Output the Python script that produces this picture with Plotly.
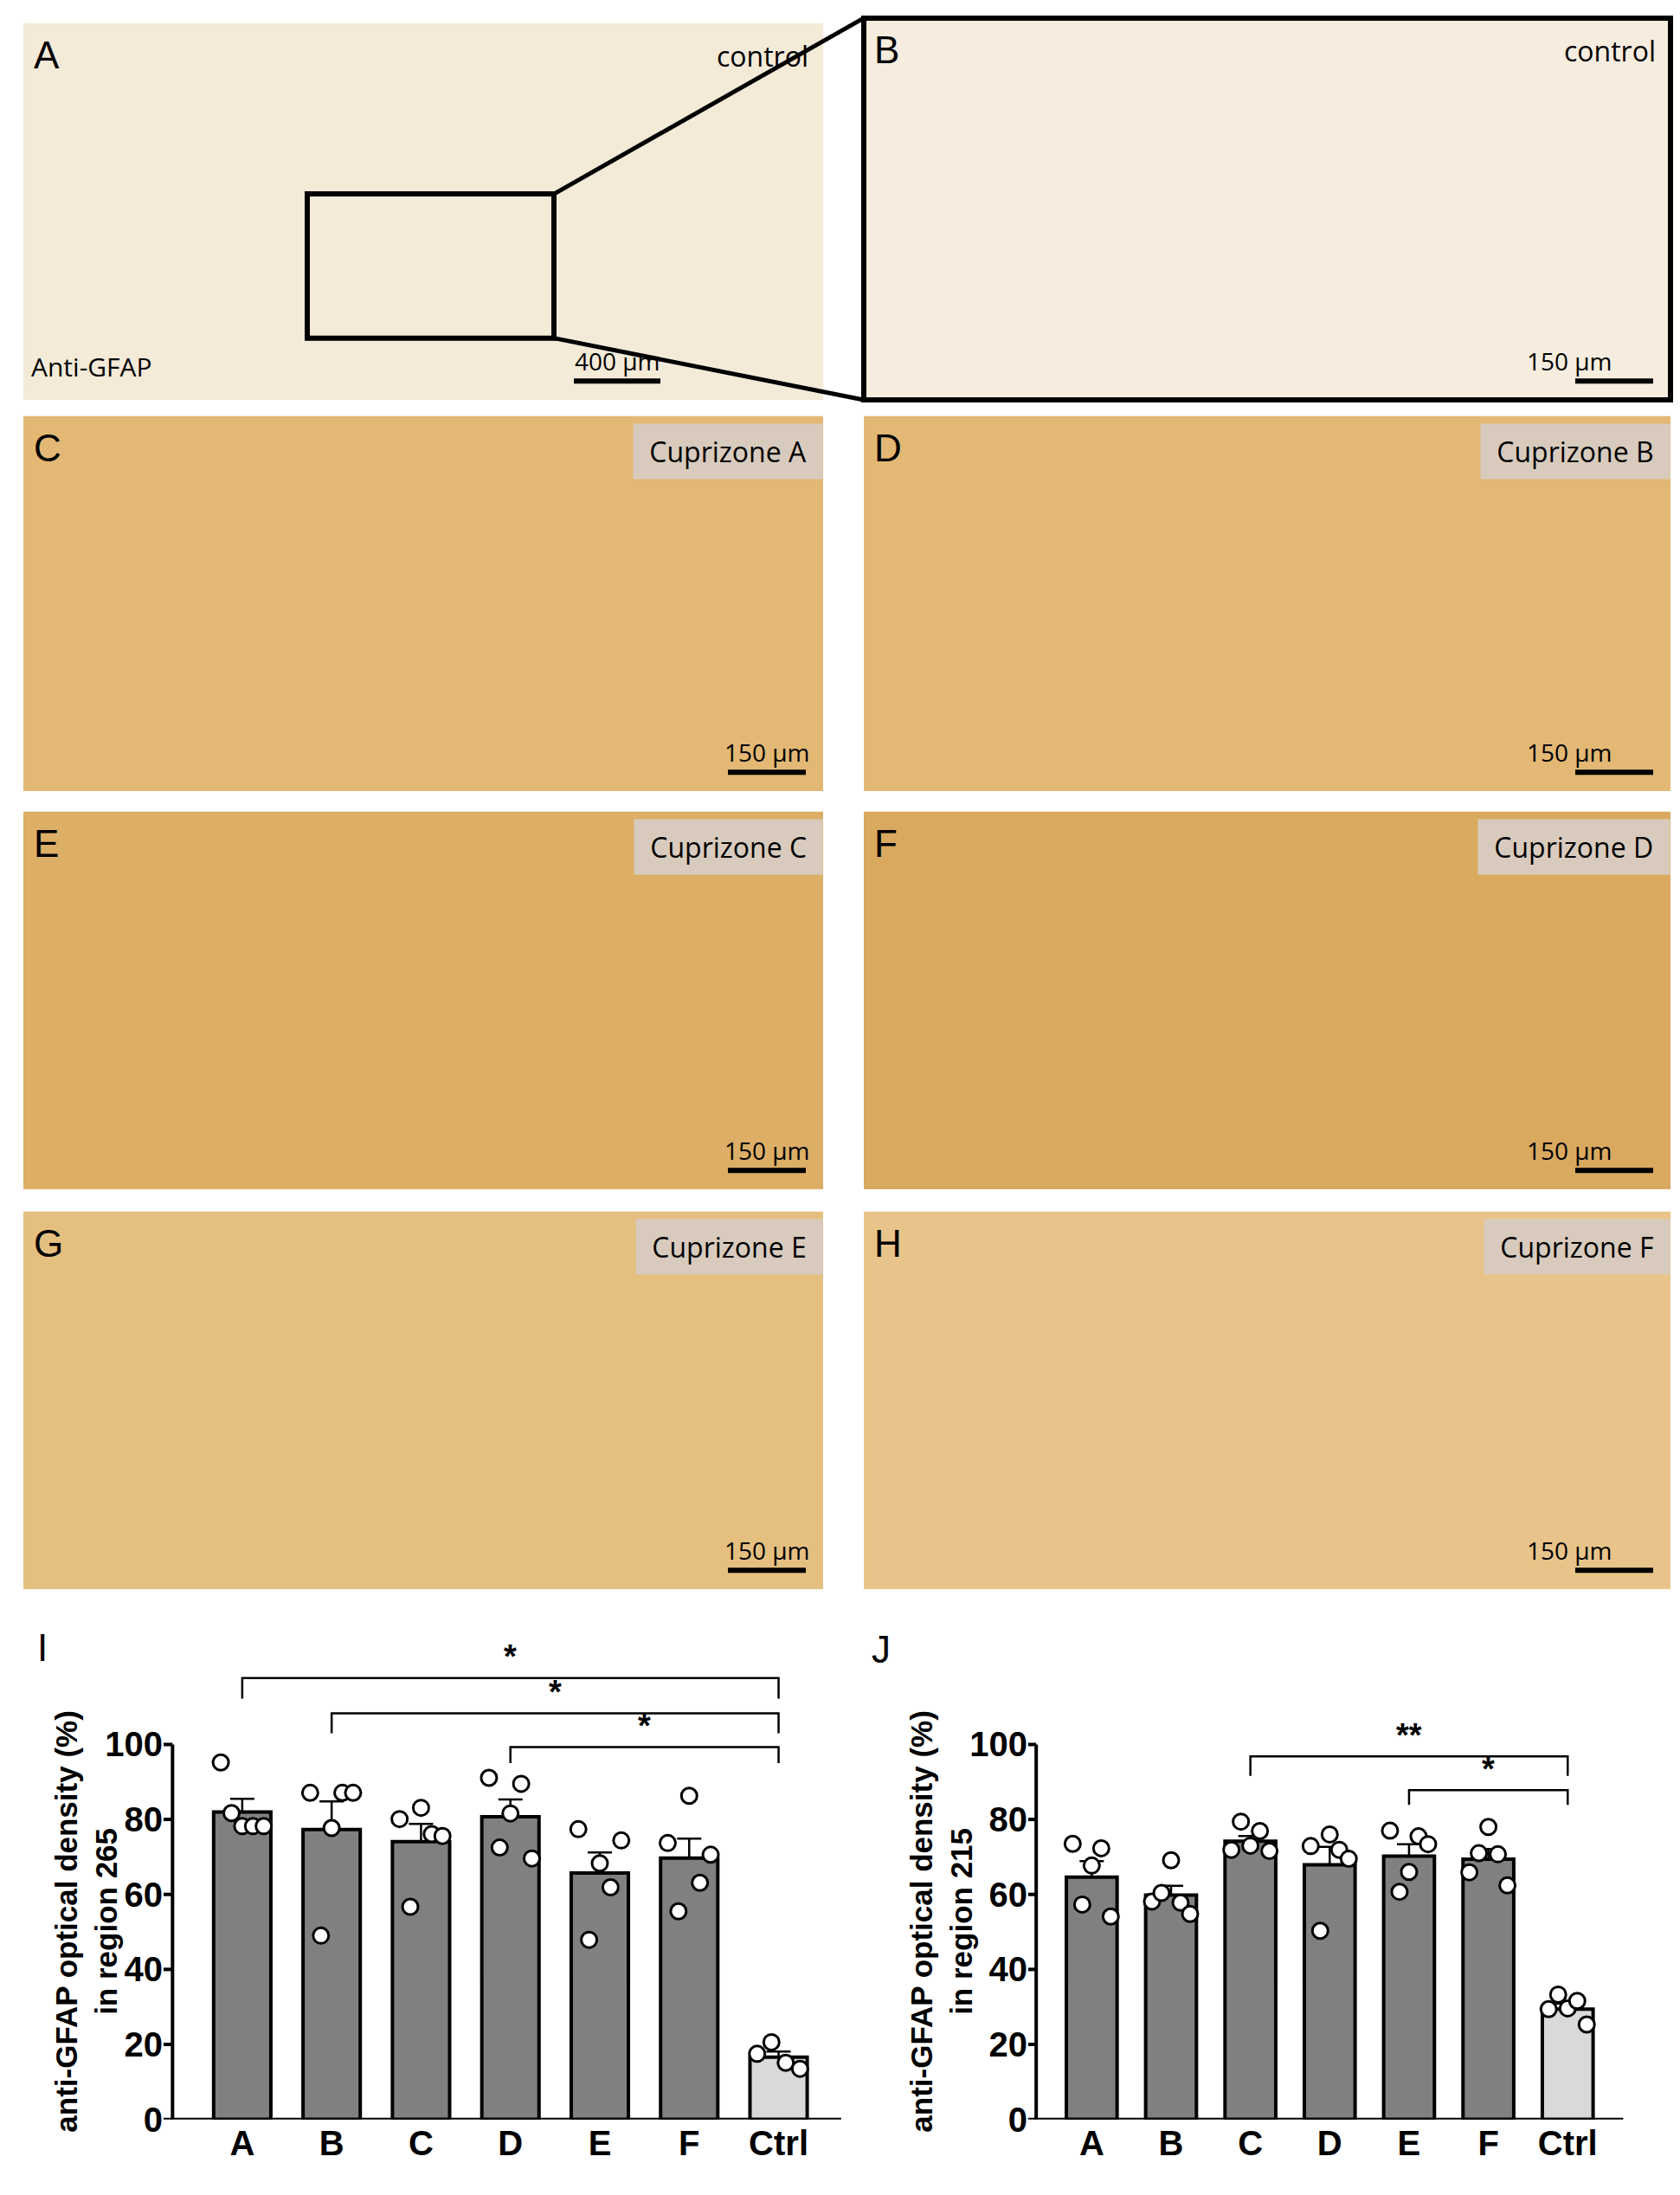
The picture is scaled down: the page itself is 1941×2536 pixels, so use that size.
import plotly.graph_objects as go
import numpy as np

W, H = 1941, 2536
groups = ["A", "B", "C", "D", "E", "F", "Ctrl"]

# Panel I (region 265)
i_means = [82.0, 77.3, 74.1, 80.7, 65.7, 69.7, 16.6]
i_sem = [3.5, 7.5, 4.7, 4.6, 5.5, 5.2, 1.5]
i_points = [
    [95.2, 81.7, 78.2, 78.2, 78.2],
    [87.1, 49.0, 77.7, 87.1, 87.1],
    [80.1, 56.7, 83.1, 76.1, 75.6],
    [91.1, 72.5, 81.6, 89.5, 69.6],
    [77.4, 47.9, 68.3, 61.9, 74.4],
    [73.7, 55.5, 86.3, 63.1, 70.6],
    [17.5, 20.6, 15.1, 13.5],
]
# Panel J (region 215)
j_means = [64.6, 59.8, 74.2, 67.9, 70.2, 69.4, 29.4]
j_sem = [4.3, 2.5, 1.4, 4.8, 3.2, 2.7, 1.5]
j_points = [
    [73.5, 57.3, 67.7, 72.3, 54.1],
    [58.1, 60.4, 69.1, 57.8, 54.8],
    [71.9, 79.4, 73.0, 76.9, 71.6],
    [72.9, 50.3, 76.0, 71.9, 69.5],
    [77.0, 60.7, 66.0, 75.5, 73.4],
    [65.9, 71.0, 78.0, 70.7, 62.4],
    [29.4, 33.3, 29.6, 31.6, 25.3],
]
i_sig = [("A", "*"), ("B", "*"), ("D", "*")]
j_sig = [("C", "**"), ("E", "*")]
i_title = "anti-GFAP optical density (%)<br>in region 265"
j_title = "anti-GFAP optical density (%)<br>in region 215"

FONT = "Liberation Sans"
fig = go.Figure()

def px(x): return x / W
def py(y): return 1 - y / H

shapes, annots = [], []

# ---------- image panels (placeholders) ----------
panels = [
    ("A", 19, 19, 943, 458, "control", "#f4ead8", "400 µm"),
    ("B", 990, 13, 1922, 458, "control", "#f6eddf", "150 µm"),
    ("C", 19, 477, 943, 914, "Cuprizone A", "#e2b874", "150 µm"),
    ("D", 990, 477, 1922, 914, "Cuprizone B", "#e2b874", "150 µm"),
    ("E", 19, 938, 943, 1378, "Cuprizone C", "#dcae66", "150 µm"),
    ("F", 990, 938, 1922, 1378, "Cuprizone D", "#d9a95f", "150 µm"),
    ("G", 19, 1404, 943, 1844, "Cuprizone E", "#e5bf80", "150 µm"),
    ("H", 990, 1404, 1922, 1844, "Cuprizone F", "#e8c48a", "150 µm"),
]
for lab, x0, y0, x1, y1, name, col, sb in panels:
    lw = 6 if lab == "B" else 0
    shapes.append(dict(type="rect", xref="paper", yref="paper", x0=px(x0), x1=px(x1),
                       y0=py(y1), y1=py(y0), fillcolor=col,
                       line=dict(color="black", width=lw), layer="below"))
    annots.append(dict(x=px(x0 + 10), y=py(y0 + 10), xref="paper", yref="paper",
                       text=lab, showarrow=False, xanchor="left", yanchor="top",
                       font=dict(family=FONT, size=44, color="black")))
    if name == "control":
        annots.append(dict(x=px(x1 - 15), y=py(y0 + 14), xref="paper", yref="paper",
                           text=name, showarrow=False, xanchor="right", yanchor="top",
                           font=dict(family="Open Sans", size=32, color="black")))
    else:
        annots.append(dict(x=px(x1), y=py(y0 + 8), xref="paper", yref="paper",
                           text=" " + name + " ", showarrow=False, xanchor="right", yanchor="top",
                           bgcolor="#d8cbbd", borderpad=10,
                           font=dict(family="Open Sans", size=32, color="black")))
    bx1 = x1 - 20
    bx0 = bx1 - 90
    if lab == "A":
        bx1, bx0 = 755, 655
    shapes.append(dict(type="line", xref="paper", yref="paper", x0=px(bx0), x1=px(bx1),
                       y0=py(y1 - 22), y1=py(y1 - 22), line=dict(color="black", width=6)))
    annots.append(dict(x=px((bx0 + bx1) / 2), y=py(y1 - 24), xref="paper", yref="paper",
                       text=sb, showarrow=False, yanchor="bottom",
                       font=dict(family="Open Sans", size=28, color="black")))
annots.append(dict(x=px(26), y=py(442), xref="paper", yref="paper", text="Anti-GFAP",
                   showarrow=False, xanchor="left", yanchor="bottom",
                   font=dict(family="Open Sans", size=30, color="black")))
shapes.append(dict(type="rect", xref="paper", yref="paper", x0=px(347), x1=px(632),
                   y0=py(386), y1=py(218), line=dict(color="black", width=6)))
shapes.append(dict(type="line", xref="paper", yref="paper", x0=px(632), y0=py(218),
                   x1=px(990), y1=py(13), line=dict(color="black", width=5)))
shapes.append(dict(type="line", xref="paper", yref="paper", x0=px(632), y0=py(386),
                   x1=px(990), y1=py(458), line=dict(color="black", width=5)))

# ---------- bar charts ----------
YMAX = 130
def add_chart(means, sem, points, sig, title, xr, yr, xdom, axpos, letter, lpos, title_x):
    xs = list(range(len(groups)))
    colors = ["#808080"] * 6 + ["#d9d9d9"]
    fig.add_trace(go.Bar(x=xs, y=means, width=0.64,
                         marker=dict(color=colors, line=dict(color="black", width=4)),
                         error_y=dict(type="data", array=sem, arrayminus=[0] * len(sem), symmetric=False,
                                      color="black", thickness=2.5, width=14),
                         xaxis=xr, yaxis=yr, showlegend=False))
    for k, pts in enumerate(points):
        offs = np.linspace(-0.24, 0.24, len(pts))
        fig.add_trace(go.Scatter(x=[k + o for o in offs], y=pts, mode="markers",
                                 marker=dict(size=18, color="white", line=dict(color="black", width=3)),
                                 xaxis=xr, yaxis=yr, showlegend=False, cliponaxis=False))
    shapes.append(dict(type="line", xref=xr, yref=yr, x0=axpos, x1=6.7, y0=0, y1=0,
                       line=dict(color="black", width=4)))
    shapes.append(dict(type="line", xref=xr, yref=yr, x0=axpos, x1=axpos, y0=0, y1=100,
                       line=dict(color="black", width=4)))
    for t in range(0, 101, 20):
        shapes.append(dict(type="line", xref=xr, yref=yr, x0=axpos - 0.1, x1=axpos, y0=t, y1=t,
                           line=dict(color="black", width=4)))
    for k in xs:
        shapes.append(dict(type="line", xref=xr, yref=yr, x0=k, x1=k, y0=0, y1=-3,
                           line=dict(color="black", width=4)))
    for g, star, lvl, drop in sig:
        gi = groups.index(g)
        shapes.append(dict(type="path", xref=xr, yref=yr,
                           path=f"M {gi},{lvl - drop} L {gi},{lvl} L 6,{lvl} L 6,{lvl - drop}",
                           line=dict(color="black", width=2.5)))
        annots.append(dict(x=(gi + 6) / 2, y=lvl + 0.3, xref=xr, yref=yr, text="<b>" + star + "</b>",
                           showarrow=False, yanchor="bottom",
                           font=dict(family=FONT, size=38, color="black")))
    annots.append(dict(x=px(lpos[0]), y=py(lpos[1]), xref="paper", yref="paper", text=letter,
                       showarrow=False, xanchor="center", yanchor="middle",
                       font=dict(family=FONT, size=44, color="black")))
    annots.append(dict(x=px(title_x), y=py(2232), xref="paper", yref="paper", text="<b>" + title + "</b>",
                       showarrow=False, textangle=-90, xanchor="center", yanchor="middle",
                       font=dict(family=FONT, size=35, color="black")))
    xk = "xaxis" + xr[1:]
    yk = "yaxis" + yr[1:]
    fig.update_layout(**{
        xk: dict(domain=xdom, range=[axpos - 0.1, 6.75], tickvals=xs,
                 ticktext=["<b>" + g + "</b>" for g in groups],
                 showgrid=False, zeroline=False, showline=False, ticks="",
                 tickfont=dict(family=FONT, size=40, color="black"), anchor=yr),
        yk: dict(domain=[py(2462), py(2462 - 4.37 * YMAX)], range=[0, YMAX],
                 tickvals=list(range(0, 101, 20)),
                 ticktext=["<b>%d</b>" % t for t in range(0, 101, 20)], showgrid=False, zeroline=False,
                 showline=False, ticks="", tickfont=dict(family=FONT, size=40, color="black"),
                 anchor=xr),
    })

i_sig_full = [(g, s, l, d) for (g, s), l, d in zip(i_sig, [117.7, 108.3, 99.3], [5.5, 5.3, 4.3])]
j_sig_full = [(g, s, l, d) for (g, s), l, d in zip(j_sig, [96.8, 87.8], [5.2, 3.9])]
add_chart(i_means, i_sem, i_points, i_sig_full, i_title, "x", "y",
          [px(181), px(969)], -0.78, "I", (41, 1912), 92)
add_chart(j_means, j_sem, j_points, j_sig_full, j_title, "x2", "y2",
          [px(1180), px(1872)], -0.7, "J", (1010, 1914), 1080)

fig.update_layout(width=W, height=H, margin=dict(l=0, r=0, t=0, b=0),
                  plot_bgcolor="white", paper_bgcolor="white", shapes=shapes, annotations=annots)
fig.write_html("out.html")
